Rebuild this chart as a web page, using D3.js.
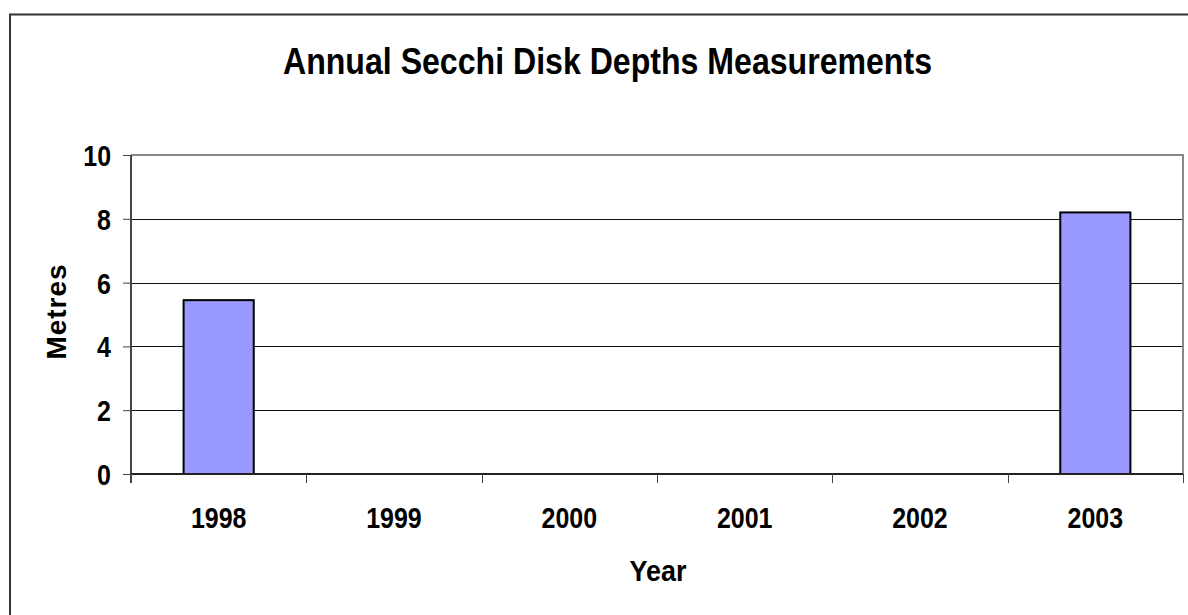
<!DOCTYPE html>
<html><head><meta charset="utf-8">
<script src="https://cdn.jsdelivr.net/npm/d3@7"></script>
<style>html,body{margin:0;padding:0;background:#fff;overflow:hidden}text{font-family:"Liberation Sans",Arial,sans-serif;font-weight:bold;fill:#000}</style>
</head><body>
<svg id="c" width="1188" height="615"></svg>
<script>
const years = ["1998","1999","2000","2001","2002","2003"];
const depths = [5.45, null, null, null, null, 8.2];
const yTicks = [0, 2, 4, 6, 8, 10];
const title = "Annual Secchi Disk Depths Measurements";
const xTitle = "Year";
const yTitle = "Metres";

const svg = d3.select("#c");
const L = 131, R = 1183, T = 155, B = 474;
const x = d3.scaleBand().domain(years).range([L, R]).paddingInner(0.6).paddingOuter(0.3);
const y = d3.scaleLinear().domain([0, 10]).range([B, T]);
const step = (R - L) / years.length;

// outer frame
svg.append("rect").attr("x", 10).attr("y", 14.5).attr("width", 1250).attr("height", 700)
  .attr("fill", "none").attr("stroke", "#333").attr("stroke-width", 2);

// title
svg.append("text").attr("x", 283).attr("y", 74).attr("font-size", 37)
  .attr("textLength", 649).attr("lengthAdjust", "spacingAndGlyphs").text(title);

// gridlines
svg.append("g").selectAll("line").data(yTicks.filter(d => d > 0 && d < 10)).join("line")
  .attr("x1", L).attr("x2", R).attr("y1", d => Math.round(y(d)) + 0.5).attr("y2", d => Math.round(y(d)) + 0.5)
  .attr("stroke", "#111").attr("stroke-width", 1);

// plot area border top/right
svg.append("path").attr("d", `M${L},${T}H${R}V${B}`).attr("fill", "none")
  .attr("stroke", "#888").attr("stroke-width", 2);

// bars
svg.append("g").selectAll("rect").data(years.map((d, i) => ({ year: d, v: depths[i] })).filter(d => d.v != null)).join("rect")
  .attr("x", d => x(d.year)).attr("y", d => y(d.v)).attr("width", x.bandwidth()).attr("height", d => y(0) - y(d.v))
  .attr("fill", "#9999FF").attr("stroke", "#000").attr("stroke-width", 2);

// y axis
const yAxis = d3.axisLeft(y).tickValues(yTicks).tickSize(8).tickFormat(d3.format("d"));
const gy = svg.append("g").attr("transform", `translate(${L},0)`).call(yAxis);
gy.select(".domain").attr("stroke", "#444").attr("stroke-width", 2).attr("d", `M0,${T}V${B + 9}`);
gy.selectAll(".tick line").attr("stroke", "#444");
gy.selectAll(".tick text").attr("x", -20).attr("dy", "0.36em").attr("font-size", 29)
  .attr("font-family", "'Liberation Sans',Arial,sans-serif").attr("font-weight", "bold").attr("fill", "#000")
  .each(function () { const t = d3.select(this); t.attr("textLength", this.getComputedTextLength() * 0.86).attr("lengthAdjust", "spacingAndGlyphs"); });

// x axis
svg.append("line").attr("x1", L).attr("x2", R).attr("y1", B).attr("y2", B).attr("stroke", "#222").attr("stroke-width", 2);
const bounds = d3.range(years.length + 1).map(i => L + i * step);
svg.append("g").selectAll("line").data(bounds).join("line")
  .attr("x1", d => Math.round(d) + 0.5).attr("x2", d => Math.round(d) + 0.5).attr("y1", B).attr("y2", B + 9)
  .attr("stroke", "#444");
svg.append("g").selectAll("text").data(years).join("text")
  .attr("x", d => x(d) + x.bandwidth() / 2).attr("y", 528).attr("text-anchor", "middle").attr("font-size", 29)
  .text(d => d)
  .each(function () { d3.select(this).attr("textLength", this.getComputedTextLength() * 0.86).attr("lengthAdjust", "spacingAndGlyphs"); });

// axis titles
svg.append("text").attr("x", 658).attr("y", 581).attr("text-anchor", "middle").attr("font-size", 29)
  .attr("textLength", 57).attr("lengthAdjust", "spacingAndGlyphs").text(xTitle);
svg.append("text").attr("transform", "translate(66,312) rotate(-90)").attr("text-anchor", "middle").attr("font-size", 28)
  .attr("textLength", 95).attr("lengthAdjust", "spacing").text(yTitle);
</script>
</body></html>
